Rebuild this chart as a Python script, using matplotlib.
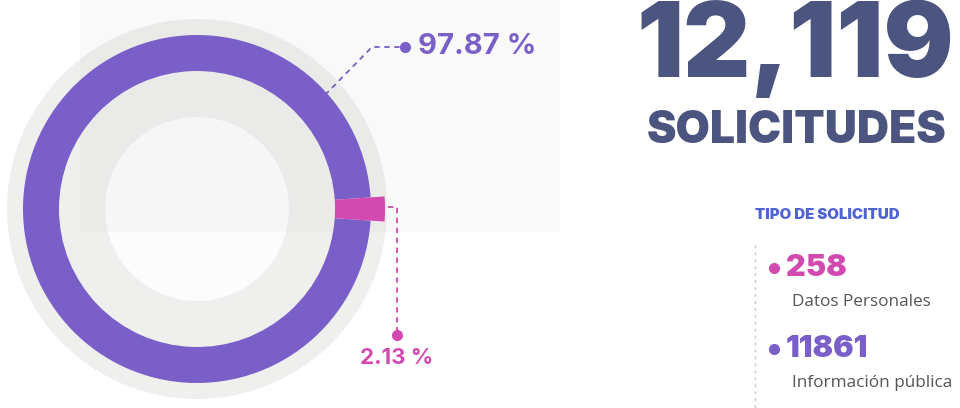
import matplotlib
matplotlib.use("Agg")
import matplotlib.pyplot as plt
from matplotlib.patches import Rectangle

# ---- data ----
categories = ["Datos Personales", "Información pública"]
counts = [258, 11861]
percents = [2.13, 97.87]
percent_labels = ["2.13 %", "97.87 %"]
total_label = "12,119"
total_caption = "SOLICITUDES"
legend_title = "TIPO DE SOLICITUD"

PINK = "#d24ab0"
PURPLE = "#7a5fc8"
DARK = "#4c5580"
BLUE = "#4f63d6"
GRAYTXT = "#555555"

FONT = ["Inter", "DejaVu Sans"]
FONT2 = ["Open Sans", "DejaVu Sans"]

fig = plt.figure(figsize=(9.6, 4.08), dpi=100)
ax = fig.add_axes([0, 0, 1, 1])

cx, cy = 197, 209

# background scan rectangle and outer gray disc
ax.pie([1], center=(cx, cy), radius=190, colors=["#eff0ee"], startangle=90)
ax.pie([1], center=(cx, cy), radius=92, colors=["#fcfcfc"], startangle=90)
ax.add_patch(Rectangle((80, 0), 480, 232, facecolor="#a0a0a0", alpha=0.06,
                       edgecolor="none", zorder=2))

# donut
half = percents[0] / 100 * 360 / 2
wedges, _ = ax.pie(percents, center=(cx, cy), radius=174, colors=[PINK, PURPLE],
                   startangle=-half, counterclock=True,
                   wedgeprops=dict(width=36, linewidth=0))
for w in wedges:
    w.set_zorder(3)
wedges[0].set_radius(188)
wedges[0].set_width(50)
wedges[0].set_zorder(4)

# annotations
ax.plot([325, 372, 405], [95, 47, 47], ls=(0, (3, 2.5)), color=PURPLE, lw=1.3, zorder=5)
ax.plot([405], [47], "o", color=PURPLE, ms=7, zorder=6)
ax.text(418, 47, percent_labels[1], color=PURPLE, fontsize=21, fontweight="bold",
        family=FONT, va="center", ha="left", zorder=6)

ax.plot([378, 397, 397], [207, 207, 335], ls=(0, (3, 2.5)), color=PINK, lw=1.3, zorder=5)
ax.plot([397], [335], "o", color=PINK, ms=7, zorder=6)
ax.text(397, 358, percent_labels[0], color=PINK, fontsize=16, fontweight="bold",
        family=FONT, va="center", ha="center", zorder=6)

# big total
ax.text(795, 49, total_label, color=DARK, fontsize=75, fontweight="black",
        family=FONT, va="center", ha="center")
ax.text(797, 131, total_caption, color=DARK, fontsize=32, fontweight="black",
        family=FONT, va="center", ha="center")

# legend
ax.text(755, 215, legend_title, color=BLUE, fontsize=10.8, fontweight="black",
        family=FONT, va="center", ha="left")
ax.plot([755, 755], [245, 408], ls=(0, (2, 3)), color="#c8c8c8", lw=1)

cols = [PINK, PURPLE]
ys = [268, 349]
for cat, n, col, y in zip(categories, counts, cols, ys):
    ax.plot([774], [y], "o", color=col, ms=7)
    ax.text(786, y, str(n), color=col, fontsize=22, fontweight="black",
            family=FONT, va="center", ha="left")
    ax.text(792, y + 34, cat, color=GRAYTXT, fontsize=12.3, family=FONT2,
            va="center", ha="left")

ax.set_xlim(0, 960)
ax.set_ylim(408, 0)
ax.set_aspect("equal")
ax.axis("off")

fig.savefig("out.png", dpi=100, facecolor="white")
